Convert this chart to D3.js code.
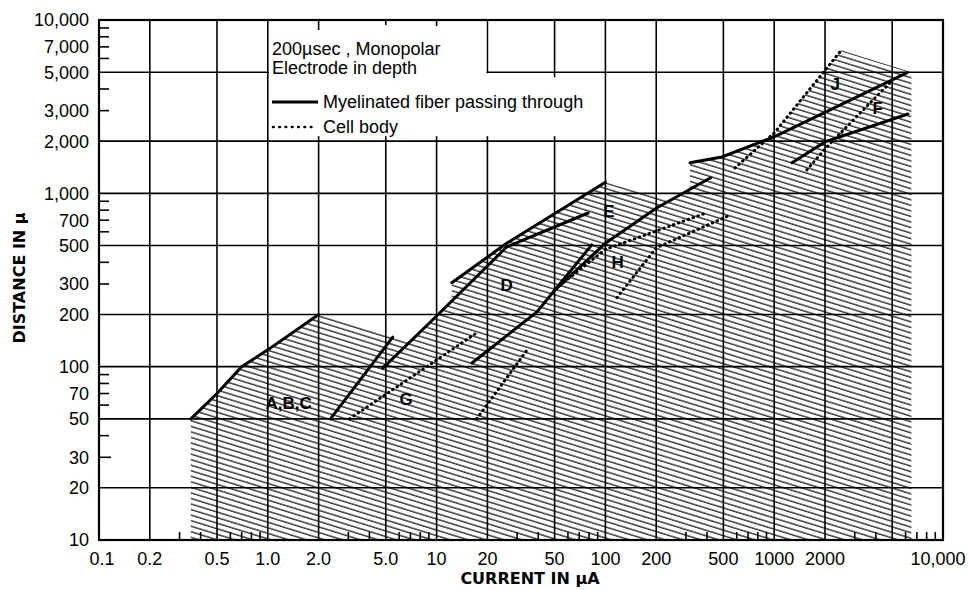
<!DOCTYPE html>
<html><head><meta charset="utf-8">
<script src="https://cdn.jsdelivr.net/npm/d3@7"></script>
<style>body{margin:0;background:#fff}svg{display:block}</style>
</head><body>
<svg id="c" width="970" height="590"></svg>
<script>
// ---------- data ----------
const xGridValues = [0.2,0.5,1,2,5,10,20,50,100,200,500,1000,2000,5000];
const yGridValues = [20,50,100,200,500,1000,2000,5000];
const xLabelValues = [0.1,0.2,0.5,1,2,5,10,20,50,100,200,500,1000,2000,10000];
const xLabelTexts  = ["0.1","0.2","0.5","1.0","2.0","5.0","10","20","50","100","200","500","1000","2000","10,000"];
const yLabelValues = [10000,7000,5000,3000,2000,1000,700,500,300,200,100,70,50,30,20,10];
const yLabelTexts  = ["10,000","7,000","5,000","3,000","2,000","1,000","700","500","300","200","100","70","50","30","20","10"];
const xMinorTicks = [0.3,0.4,0.6,0.7,0.8,0.9,3,4,6,7,8,9,30,40,60,70,80,90,300,400,600,700,800,900,3000,4000,6000,7000,8000,9000];
const yMinorTicks = [30,40,60,70,80,90,300,400,600,700,800,900,3000,4000,6000,7000,8000,9000];

// solid curves (myelinated fiber passing through): [current µA, distance µ]
const curveABC        = [[0.35,50],[0.5,70],[0.7,100],[1.0,125],[2.0,200]];
const curveG          = [[2.35,50],[5.5,148]];
const curveDUpper     = [[4.8,98],[10,196],[26,490],[79,770]];
const curveETop       = [[12.3,305],[26,515],[100,1160]];
const curveDLower     = [[16.2,105],[39.3,207],[83,504]];
const curveH          = [[50,275],[100,515],[200,820],[420,1230]];
const curveJ          = [[317,1500],[490,1620],[1000,2120],[6100,4950]];
const curveF          = [[1275,1500],[2000,1980],[6200,2870]];
// dotted curves (cell body)
const dotG            = [[3.05,50],[17,155]];
const dotD            = [[17.3,50],[35,128]];
const dotHUpper       = [[54,295],[100,475],[380,760]];
const dotHLower       = [[117,250],[200,485],[550,750]];
const dotJ            = [[585,1400],[1000,2230],[2500,6700]];
const dotF            = [[1560,1365],[2050,1850],[3850,3460],[5050,4510]];
// upper boundary of the hatched (excitable) region
const hatchEnvelope = [[0.35,10],[0.35,50],[0.5,70],[0.7,100],[1.0,125],[2.0,200],[5.5,148],[6.9,139],
  [10,196],[12.3,239],[12.3,305],[26,515],[100,1160],[235,905],[317,1056],[317,1500],[490,1620],
  [890,2030],[1000,2230],[2500,6700],[6500,5000],[6500,10]];
// region labels
const regionLabelTexts = ["A,B,C","G","D","E","H","J","F"];
const regionLabelPos   = [[1.33,62],[6.6,65],[26,295],[105,790],[118,400],[2300,4250],[4100,3100]];

// ---------- drawing ----------
const svg = d3.select("#c");
const x = d3.scaleLog().domain([0.1,10000]).range([99,943]);
const y = d3.scaleLog().domain([10,10000]).range([540,20]);
const line = d3.line().x(d=>x(d[0])).y(d=>y(d[1]));

const defs = svg.append("defs");
const pat = defs.append("pattern").attr("id","hatch").attr("patternUnits","userSpaceOnUse")
  .attr("width",20).attr("height",5.3).attr("patternTransform","rotate(17.2)");
pat.append("line").attr("x1",0).attr("x2",20).attr("y1",1).attr("y2",1)
  .attr("stroke","#000").attr("stroke-width",1.15);

// hatch
svg.append("path").attr("d", line(hatchEnvelope) + "Z").attr("fill","url(#hatch)");

// grid
const g = svg.append("g").attr("stroke","#000").attr("stroke-width",1.6);
xGridValues.forEach(v=>g.append("line").attr("x1",x(v)).attr("x2",x(v)).attr("y1",y(10000)).attr("y2",y(10)));
yGridValues.forEach(v=>g.append("line").attr("x1",x(0.1)).attr("x2",x(10000)).attr("y1",y(v)).attr("y2",y(v)));

// legend box (white) with stubs
const L = x(1)+1.2, R = x(100)-1.2, T = y(10000)+1, B = y(2000)-1.2, N = x(20)-1, NB = y(5000)+1;
svg.append("path").attr("d",`M${L},${T}H${N}V${NB}H${R}V${B}H${L}Z`).attr("fill","#fff");
const st = svg.append("g").attr("stroke","#000").attr("stroke-width",1.6);
[[2,10],[5,5],[10,6]].forEach(([v,l])=>st.append("line").attr("x1",x(v)).attr("x2",x(v)).attr("y1",y(10000)).attr("y2",y(10000)+l));
[2,5,10,20,50].forEach(v=>st.append("line").attr("x1",x(v)).attr("x2",x(v)).attr("y1",y(2000)).attr("y2",y(2000)-5));
st.append("line").attr("x1",x(50)).attr("x2",x(50)).attr("y1",y(5000)).attr("y2",y(5000)+5);

// border
svg.append("rect").attr("x",x(0.1)).attr("y",y(10000)).attr("width",x(10000)-x(0.1)).attr("height",y(10)-y(10000))
  .attr("fill","none").attr("stroke","#000").attr("stroke-width",2.2);

// minor ticks
const mt = svg.append("g").attr("stroke","#000").attr("stroke-width",1.6);
xMinorTicks.forEach(v=>mt.append("line").attr("x1",x(v)).attr("x2",x(v)).attr("y1",y(10)).attr("y2",y(10)-8));
yMinorTicks.forEach(v=>mt.append("line").attr("x1",x(0.1)).attr("x2",x(0.1)+(v===30?12:10)).attr("y1",y(v)).attr("y2",y(v)));

// tick labels
const lab = svg.append("g").attr("font-family","'Liberation Sans', Arial, sans-serif").attr("font-size",18).attr("fill","#000");
xLabelValues.forEach((v,i)=>lab.append("text").attr("x",x(v)+(i===0?3:(i===xLabelValues.length-1?-5:0))).attr("y",565).attr("text-anchor","middle").text(xLabelTexts[i]));
yLabelValues.forEach((v,i)=>lab.append("text").attr("x",89).attr("y",y(v)).attr("dy","0.36em").attr("text-anchor","end").text(yLabelTexts[i]));

// curves
const solids = [curveABC,curveG,curveDUpper,curveETop,curveDLower,curveH,curveJ,curveF];
const dots = [dotG,dotD,dotHUpper,dotHLower,dotJ,dotF];
solids.forEach(c=>svg.append("path").attr("d",line(c)).attr("fill","none").attr("stroke","#000").attr("stroke-width",3).attr("stroke-linecap","round"));
dots.forEach(c=>svg.append("path").attr("d",line(c)).attr("fill","none").attr("stroke","#000").attr("stroke-width",3)
  .attr("stroke-dasharray","0.6 4.6").attr("stroke-linecap","round"));

// region labels
const rl = svg.append("g").attr("font-family","'Liberation Sans', Arial, sans-serif").attr("font-size",17).attr("font-weight","bold");
regionLabelTexts.forEach((t,i)=>rl.append("text").attr("x",x(regionLabelPos[i][0])).attr("y",y(regionLabelPos[i][1]))
  .attr("text-anchor","middle").attr("dy","0.35em").text(t));

// legend
const lg = svg.append("g").attr("font-family","'Liberation Sans', Arial, sans-serif").attr("font-size",18);
lg.append("text").attr("x",272).attr("y",55).text("200µsec , Monopolar");
lg.append("text").attr("x",272).attr("y",74).text("Electrode in depth");
lg.append("line").attr("x1",272).attr("x2",318).attr("y1",102).attr("y2",102).attr("stroke","#000").attr("stroke-width",3);
lg.append("text").attr("x",323).attr("y",108).text("Myelinated fiber passing through");
lg.append("line").attr("x1",273).attr("x2",317).attr("y1",127).attr("y2",127).attr("stroke","#000").attr("stroke-width",2.6)
  .attr("stroke-dasharray","0.6 5.7").attr("stroke-linecap","round");
lg.append("text").attr("x",323).attr("y",133).text("Cell body");

// axis titles
const at = svg.append("g").attr("font-family","'DejaVu Sans', sans-serif").attr("font-size",16).attr("font-weight","bold");
at.append("text").attr("x",530).attr("y",584).attr("text-anchor","middle").text("CURRENT IN µA");
at.append("text").attr("transform","translate(25,278) rotate(-90)").attr("text-anchor","middle").text("DISTANCE IN µ");
</script>
</body></html>
